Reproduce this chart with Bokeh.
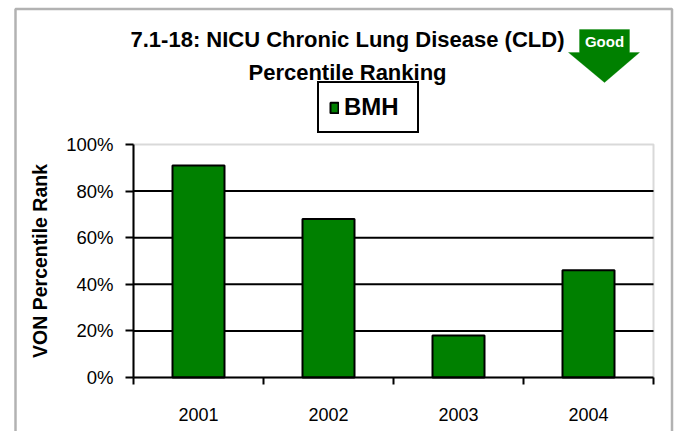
from bokeh.plotting import figure
from bokeh.models import (Range1d, FixedTicker, NumeralTickFormatter, Legend,
                          LegendItem, Label, PolyAnnotation, BoxAnnotation)
from bokeh.embed import file_html
from bokeh.resources import INLINE

# ---- data ----
years = ["2001", "2002", "2003", "2004"]
bmh = [0.91, 0.68, 0.18, 0.46]
y_ticks = [0.0, 0.2, 0.4, 0.6, 0.8, 1.0]
title_lines = ["7.1-18: NICU Chronic Lung Disease (CLD)", "Percentile Ranking"]
series_name = "BMH"
badge_text = "Good"
y_label = "VON Percentile Rank"

FONT = "Liberation Sans"
GREEN = "#008000"
W, H = 675, 431

# plot area placement (pixels on the canvas)
AX_LEFT, AX_RIGHT, AX_TOP, AX_BOTTOM = 133, 653, 144, 377

n = len(years)
x_pos = [i + 0.5 for i in range(n)]
boundaries = [float(i) for i in range(n + 1)]
ymax = y_ticks[-1]

# ranges chosen so that the frame covers the whole canvas
px_x = (AX_RIGHT - AX_LEFT) / n
px_y = (AX_BOTTOM - AX_TOP) / ymax
x_range = Range1d(-AX_LEFT / px_x, (W - AX_LEFT) / px_x)
y_range = Range1d(-(H - AX_BOTTOM) / px_y, AX_BOTTOM / px_y)

p = figure(frame_width=W, frame_height=H, min_border=0,
           x_range=x_range, y_range=y_range, title=None,
           output_backend="svg", toolbar_location=None,
           background_fill_color="white", border_fill_color="white")
p.outline_line_color = None
p.xgrid.visible = False
p.ygrid.visible = False

# plot-area border (grey top/right)
p.add_layout(BoxAnnotation(left=0, right=n, bottom=0, top=ymax,
                           fill_alpha=0, line_color="#808080", line_width=2,
                           level="underlay"))

# horizontal gridlines
grid_y = y_ticks[1:-1]
p.segment(x0=[0] * len(grid_y), x1=[n] * len(grid_y), y0=grid_y, y1=grid_y,
          line_color="black", line_width=2)

bars = p.vbar(x=x_pos, top=bmh, width=0.4, bottom=0,
              fill_color=GREEN, line_color="black", line_width=2)

# y axis
ya = p.yaxis[0]
ya.fixed_location = 0
ya.bounds = (0, ymax)
ya.ticker = FixedTicker(ticks=y_ticks)
ya.formatter = NumeralTickFormatter(format="0%")
ya.axis_line_color = "black"
ya.axis_line_width = 2
ya.major_tick_line_color = "black"
ya.major_tick_line_width = 2
ya.major_tick_out = 8
ya.major_tick_in = 0
ya.minor_tick_line_color = None
ya.major_label_standoff = 12
ya.major_label_text_font = FONT
ya.major_label_text_font_size = "18.5px"
ya.major_label_text_color = "black"
ya.axis_label = y_label
ya.axis_label_text_font = FONT
ya.axis_label_text_font_style = "bold"
ya.axis_label_text_font_size = "19.5px"
ya.axis_label_text_color = "black"
ya.axis_label_standoff = 12

# x axis: labels at centres, ticks at category boundaries
xa = p.xaxis[0]
xa.fixed_location = 0
xa.bounds = (0, n)
xa.ticker = FixedTicker(ticks=x_pos, minor_ticks=boundaries)
xa.major_label_overrides = {x: lab for x, lab in zip(x_pos, years)}
xa.axis_line_color = "black"
xa.axis_line_width = 2
xa.major_tick_out = 0
xa.major_tick_in = 0
xa.minor_tick_line_color = "black"
xa.minor_tick_line_width = 2
xa.minor_tick_out = 7
xa.minor_tick_in = 0
xa.major_label_standoff = 23
xa.major_label_text_font = FONT
xa.major_label_text_font_size = "18px"
xa.major_label_text_color = "black"

# legend (screen position relative to frame bottom-left)
legend = Legend(items=[LegendItem(label=series_name, renderers=[bars])],
                location=(317, H - 133), orientation="vertical",
                border_line_color="black", border_line_width=2,
                border_line_alpha=1,
                background_fill_color="white", background_fill_alpha=1,
                padding=10, spacing=0, margin=0,
                glyph_width=10, glyph_height=13, label_standoff=5,
                label_width=63,
                label_text_font=FONT, label_text_font_style="bold",
                label_text_font_size="24px", label_text_color="black")
p.add_layout(legend)

# titles
for txt, yy in zip(title_lines, [39, 72]):
    p.add_layout(Label(x=347, y=H - yy, x_units="screen", y_units="screen",
                       text=txt, text_align="center", text_baseline="alphabetic",
                       text_font=FONT, text_font_style="bold",
                       text_font_size="22px", text_color="black"))

# "Good" arrow badge
arrow_x = [579, 629, 629, 639, 604, 568, 579]
arrow_y = [29, 29, 52, 52, 82, 52, 52]
p.add_layout(PolyAnnotation(xs=arrow_x, ys=[H - v for v in arrow_y],
                            xs_units="screen", ys_units="screen",
                            fill_color=GREEN, fill_alpha=1, line_color=GREEN,
                            line_width=1, level="overlay"))
p.add_layout(Label(x=604, y=H - 41, x_units="screen", y_units="screen",
                   text=badge_text, text_align="center", text_baseline="alphabetic",
                   text_font=FONT, text_font_style="bold",
                   text_font_size="15px", text_color="white", level="overlay"))

# outer chart border
bx = [15, 671.5, 671.5, 15]
by = [8.5, 8.5, 445, 445]
p.add_layout(PolyAnnotation(xs=bx, ys=[H - v for v in by],
                            xs_units="screen", ys_units="screen",
                            fill_alpha=0, line_color="black", line_width=2.5,
                            level="overlay"))

open("out.html", "w").write(file_html(p, INLINE))
